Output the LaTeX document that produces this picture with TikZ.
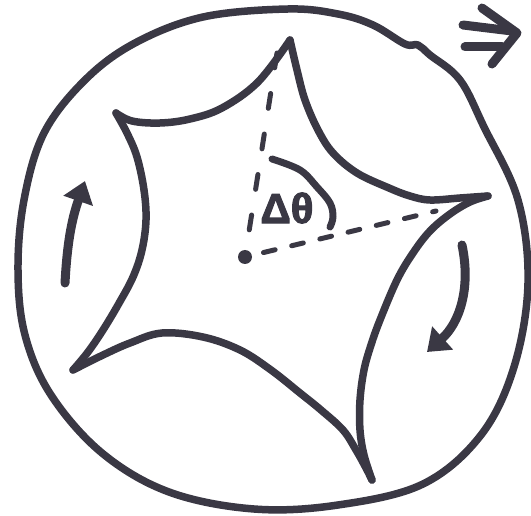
\documentclass[tikz,border=0pt]{standalone}
\usepackage{fontspec}
\usepackage{tikz}
\usetikzlibrary{arrows.meta, positioning}
\newfontfamily\labelfont{Liberation Sans}[BoldFeatures={FakeBold=2.5}]
\definecolor{ink}{RGB}{58,56,68}

\tikzset{
    outline/.style={draw=ink, line width=7.5pt, line cap=round, line join=round},
    spin/.style={draw=ink, line width=9pt, line cap=round,
        -{Triangle[length=21pt, width=30pt]}},
    guide/.style={draw=ink, line width=5pt, line cap=round},
}

\begin{document}
\begin{tikzpicture}[x=1pt, y=1pt]
    \useasboundingbox (0,0) rectangle (531,515);

    % Outer circle
    \draw[outline] plot[smooth cycle, tension=0.6] coordinates {
        (288,506) (338,501) (373,490) (405,471) (418,470) (430,460)
        (460,435) (484,388) (518,315) (528,232) (514,148) (481,80)
        (423,31) (338,10) (254,6) (169,23) (102,62) (51,120) (25,180)
        (18,245) (24,315) (44,382) (85,435) (135,472) (203,498)};

    % Star tips
    \coordinate (T) at (290,475);
    \coordinate (L) at (116,402);
    \coordinate (BL) at (73,145);
    \coordinate (B) at (372,35);
    \coordinate (R) at (488,319);

    % Star edges
    \draw[outline] plot[smooth, tension=0.6] coordinates {
        (T) (258,433) (222,407) (190,396) (160,392) (132,394) (L)};
    \draw[outline] plot[smooth, tension=0.6] coordinates {
        (L) (127,382) (137,358) (144,325) (146,295) (142,265) (133,238)
        (118,210) (103,185) (88,163) (BL)};
    \draw[outline] plot[smooth, tension=0.6] coordinates {
        (BL) (103,160) (130,172) (162,182) (203,178) (240,165) (271,145)
        (300,122) (321,105) (343,85) (356,65) (366,47) (B)};
    \draw[outline] plot[smooth, tension=0.6] coordinates {
        (B) (364,60) (360,85) (360,115) (364,145) (371,170) (380,195)
        (397,235) (413,262) (430,284) (450,301) (470,313) (R)};
    \draw[outline] plot[smooth, tension=0.6] coordinates {
        (R) (460,317) (430,315) (410,319) (389,327) (357,342) (333,362)
        (318,385) (305,415) (297,445) (T)};

    % Centre and angle
    \coordinate (O) at (245,258);
    \coordinate (topend) at (277,462);
    \coordinate (rightend) at (436,304);
    \draw[guide, dash pattern=on 15pt off 26pt] (topend) -- (O);
    \draw[guide, dash pattern=on 12pt off 17pt, dash phase=10pt] (O) -- (rightend);
    \fill[ink] (O) circle (7);
    \draw[outline, line width=7pt] plot[smooth, tension=0.6] coordinates {
        (272,356) (300,345) (317,328) (330,312) (333,298) (330,288)};
    \node[text=ink, inner sep=0pt] (dtheta) at (287,307)
        {\labelfont\bfseries\fontsize{42}{42}\selectfont Δθ};

    % Rotation arrows
    \coordinate (lefttail) at (65,232);
    \coordinate (lefthead) at (85,334);
    \coordinate (righttail) at (462,270);
    \coordinate (righthead) at (427,163);
    \draw[spin] (lefttail) to[bend left=8] (lefthead);
    \draw[spin] (righttail) to[bend left=30] (righthead);

    % Implies sign
    \draw[outline, line width=9pt] (463,490) -- (512,484);
    \draw[outline, line width=9pt] (465,468) -- (502,468);
    \draw[outline, line width=9pt] (482,507) -- (517,482) -- (492,451);
\end{tikzpicture}
\end{document}
